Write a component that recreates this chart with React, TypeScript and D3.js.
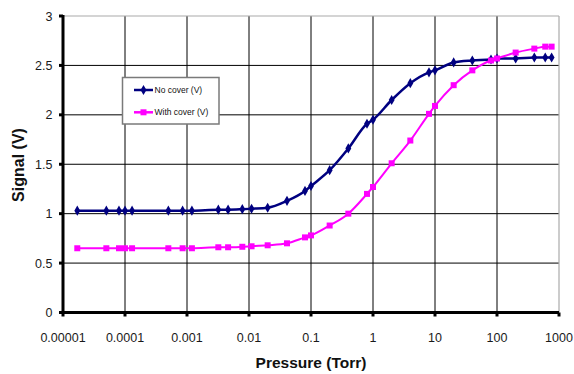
import React, { useEffect, useRef } from "react";
import * as d3 from "d3";

// pressure (Torr) shared by both series
const pressures = [
  1.7e-5, 5e-5, 8e-5, 1e-4, 1.3e-4, 5e-4, 8.5e-4, 1.2e-3, 3.2e-3, 4.6e-3, 7.8e-3, 1.1e-2,
  2e-2, 4.1e-2, 8e-2, 0.1, 0.2, 0.4, 0.8, 1.0, 2.0, 4.0, 8.0, 10, 20, 40, 80, 100, 200, 400, 600, 760,
];
const noCover = [
  1.03, 1.03, 1.03, 1.03, 1.03, 1.03, 1.03, 1.03, 1.04, 1.04, 1.045, 1.05, 1.06, 1.13, 1.23, 1.28,
  1.44, 1.66, 1.91, 1.95, 2.15, 2.32, 2.43, 2.45, 2.53, 2.55, 2.56, 2.57, 2.57, 2.58, 2.58, 2.58,
];
const withCover = [
  0.65, 0.65, 0.65, 0.65, 0.65, 0.65, 0.65, 0.65, 0.66, 0.66, 0.665, 0.67, 0.68, 0.7, 0.76, 0.78,
  0.88, 1.0, 1.2, 1.27, 1.51, 1.74, 2.01, 2.09, 2.3, 2.45, 2.55, 2.57, 2.63, 2.67, 2.69, 2.69,
];
const xTicks = [1e-5, 1e-4, 1e-3, 1e-2, 0.1, 1, 10, 100, 1000];
const xTickLabels = ["0.00001", "0.0001", "0.001", "0.01", "0.1", "1", "10", "100", "1000"];
const yTicks = [0, 0.5, 1, 1.5, 2, 2.5, 3];

const series = [
  { name: "No cover (V)", values: noCover, color: "#000080", shape: d3.symbolDiamond, size: 30, width: 2.5 },
  { name: "With cover (V)", values: withCover, color: "#FF00FF", shape: d3.symbolSquare, size: 36, width: 2 },
];

export default function App() {
  const ref = useRef<SVGSVGElement>(null);

  useEffect(() => {
    if (!ref.current) return;
    const svg = d3.select(ref.current);
    svg.selectAll("*").remove();
    const font = "'Liberation Sans', Arial, sans-serif";

    const x = d3.scaleLog().domain([1e-5, 1000]).range([63, 559]);
    const y = d3.scaleLinear().domain([0, 3]).range([312.5, 16]);

    svg.append("rect").attr("width", 574).attr("height", 374).attr("fill", "#fff");

    // grid
    const g = svg.append("g");
    g.selectAll("line.v").data(xTicks.slice(1, -1)).enter().append("line")
      .attr("x1", (d) => x(d)).attr("x2", (d) => x(d)).attr("y1", y(3)).attr("y2", y(0))
      .attr("stroke", "#000").attr("stroke-width", 1);
    g.selectAll("line.h").data(yTicks.slice(1, -1)).enter().append("line")
      .attr("x1", x(1e-5)).attr("x2", x(1000)).attr("y1", (d) => y(d)).attr("y2", (d) => y(d))
      .attr("stroke", "#000").attr("stroke-width", 1);
    // top / right border
    g.append("line").attr("x1", x(1e-5)).attr("x2", x(1000)).attr("y1", y(3)).attr("y2", y(3))
      .attr("stroke", "#aaa").attr("stroke-width", 1.2);
    g.append("line").attr("x1", x(1000)).attr("x2", x(1000)).attr("y1", y(3)).attr("y2", y(0))
      .attr("stroke", "#aaa").attr("stroke-width", 1.2);

    // axes
    g.append("line").attr("x1", x(1e-5)).attr("x2", x(1000)).attr("y1", y(0)).attr("y2", y(0))
      .attr("stroke", "#000").attr("stroke-width", 3);
    g.append("line").attr("x1", x(1e-5)).attr("x2", x(1e-5)).attr("y1", y(3) - 1).attr("y2", y(0) + 1.5)
      .attr("stroke", "#000").attr("stroke-width", 3);
    g.selectAll("line.xt").data(xTicks).enter().append("line")
      .attr("x1", (d) => x(d)).attr("x2", (d) => x(d)).attr("y1", y(0)).attr("y2", y(0) + 4)
      .attr("stroke", "#000").attr("stroke-width", 3);
    g.selectAll("line.yt").data(yTicks).enter().append("line")
      .attr("x1", x(1e-5) - 4).attr("x2", x(1e-5)).attr("y1", (d) => y(d)).attr("y2", (d) => y(d))
      .attr("stroke", "#000").attr("stroke-width", 3);

    // tick labels
    g.selectAll("text.xl").data(xTicks).enter().append("text")
      .attr("x", (d) => x(d)).attr("y", 341.5).attr("text-anchor", "middle")
      .attr("font-family", font).attr("font-size", 12.5).attr("fill", "#1a1a1a")
      .text((d, i) => xTickLabels[i]);
    g.selectAll("text.yl").data(yTicks).enter().append("text")
      .attr("x", 52.5).attr("y", (d) => y(d)).attr("dy", "0.36em").attr("text-anchor", "end")
      .attr("font-family", font).attr("font-size", 12.5).attr("fill", "#1a1a1a")
      .text((d) => String(d));

    // titles
    svg.append("text").attr("x", 311).attr("y", 368).attr("text-anchor", "middle")
      .attr("font-family", font).attr("font-size", 15.5).attr("font-weight", "bold").attr("fill", "#111")
      .text("Pressure (Torr)");
    svg.append("text").attr("transform", "translate(23.5,165) rotate(-90)").attr("text-anchor", "middle")
      .attr("font-family", font).attr("font-size", 16).attr("font-weight", "bold").attr("fill", "#111")
      .text("Signal (V)");

    // series
    const line = d3.line<number>()
      .x((d, i) => x(pressures[i])).y((d) => y(d)).curve(d3.curveMonotoneX);
    series.forEach((s) => {
      svg.append("path").attr("d", line(s.values)).attr("fill", "none")
        .attr("stroke", s.color).attr("stroke-width", s.width);
      svg.append("g").selectAll("path").data(s.values).enter().append("path")
        .attr("d", d3.symbol().type(s.shape).size(s.size)())
        .attr("transform", (d, i) => `translate(${x(pressures[i])},${y(d)})`)
        .attr("fill", s.color);
    });

    // legend
    const lg = svg.append("g");
    lg.append("rect").attr("x", 122.5).attr("y", 77.5).attr("width", 96.5).attr("height", 46.5)
      .attr("fill", "#fff").attr("stroke", "#7a7a7a").attr("stroke-width", 1.5);
    series.forEach((s, i) => {
      const cy = 90 + i * 22.3;
      lg.append("line").attr("x1", 134).attr("x2", 153).attr("y1", cy).attr("y2", cy)
        .attr("stroke", s.color).attr("stroke-width", 2.5);
      lg.append("path").attr("d", d3.symbol().type(s.shape).size(s.size)())
        .attr("transform", `translate(143.5,${cy})`).attr("fill", s.color);
      lg.append("text").attr("x", 154.5).attr("y", cy).attr("dy", "0.35em")
        .attr("font-family", font).attr("font-size", 8.5).attr("fill", "#111").text(s.name);
    });
  }, []);

  return (
    <svg ref={ref} width={574} height={374} style={{ position: "absolute", left: 0, top: 0 }} />
  );
}
